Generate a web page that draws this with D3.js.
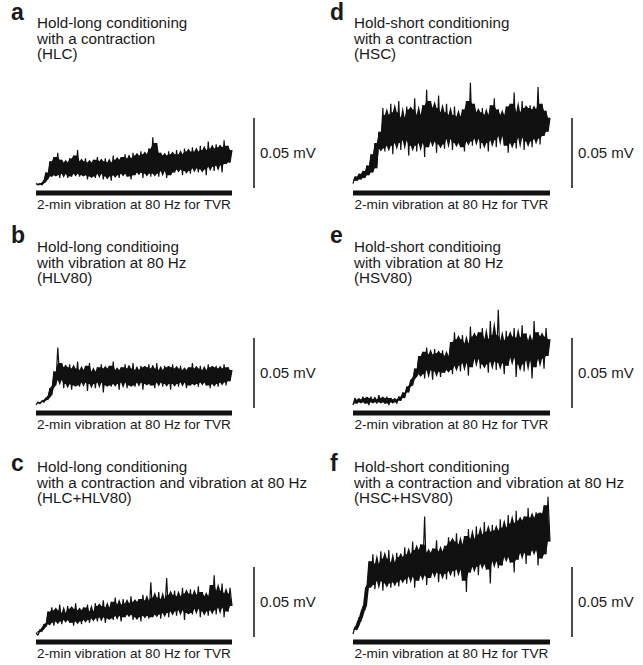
<!DOCTYPE html>
<html>
<head>
<meta charset="utf-8">
<script src="https://cdn.jsdelivr.net/npm/d3@7"></script>
<style>
  body { margin: 0; background: #fff; }
  text { font-family: "Liberation Sans", Arial, sans-serif; fill: #1a1a1a; }
</style>
</head>
<body>
<svg id="fig" width="643" height="665"></svg>
<script>
const panelLetters = ['a', 'b', 'c', 'd', 'e', 'f']

const panelTitles = [
  ['Hold-long conditioning', 'with a contraction', '(HLC)'],
  ['Hold-long conditioing', 'with vibration at 80 Hz', '(HLV80)'],
  ['Hold-long conditioning', 'with a contraction and vibration at 80 Hz', '(HLC+HLV80)'],
  ['Hold-short conditioning', 'with a contraction', '(HSC)'],
  ['Hold-short conditioing', 'with vibration at 80 Hz', '(HSV80)'],
  ['Hold-short conditioning', 'with a contraction and vibration at 80 Hz', '(HSC+HSV80)'],
]

const captionText = '2-min vibration at 80 Hz for TVR'
const scaleLabel = '0.05 mV'
const scaleBarMicroVolts = 50
const vibrationSeconds = 120

// rectified EMG traces, µV above the pre-vibration level, evenly spaced over the 2 min
const traceHLC = [
  1, 0, 1, 0, 2, 9, 4, 17, 6, 20,
  7, 23, 5, 18, 8, 16, 5, 19, 6, 21,
  8, 25, 6, 17, 7, 19, 4, 16, 6, 18,
  5, 20, 8, 17, 4, 19, 6, 16, 3, 21,
  7, 18, 5, 20, 8, 22, 6, 19, 4, 23,
  7, 21, 9, 24, 5, 22, 8, 26, 6, 34,
  8, 30, 6, 23, 10, 21, 5, 24, 7, 22,
  9, 25, 11, 22, 7, 26, 10, 24, 8, 27,
  12, 24, 9, 28, 11, 25, 7, 31, 13, 26,
  10, 29, 14, 27, 9, 32, 15, 28, 16, 25,
]

const traceHLV80 = [
  0, 2, 1, 3, 2, 5, 4, 12, 7, 24,
  14, 41, 18, 30, 12, 27, 15, 29, 11, 26,
  14, 31, 13, 25, 16, 28, 10, 30, 15, 24,
  12, 27, 16, 29, 9, 26, 14, 28, 13, 31,
  15, 25, 11, 27, 16, 29, 12, 26, 14, 30,
  13, 25, 16, 28, 11, 27, 15, 29, 14, 26,
  12, 30, 16, 25, 13, 28, 15, 27, 11, 29,
  15, 26, 13, 28, 16, 25, 12, 27, 14, 30,
  15, 26, 13, 28, 16, 25, 14, 29, 12, 27,
  15, 28, 13, 26, 16, 29, 14, 27, 17, 25,
]

const traceHLCHLV80 = [
  1, -1, 3, 2, 7, 5, 16, 8, 19, 6,
  17, 9, 21, 7, 15, 10, 20, 8, 18, 6,
  22, 9, 17, 7, 19, 10, 21, 8, 16, 11,
  22, 9, 20, 12, 24, 8, 19, 11, 23, 10,
  26, 13, 21, 9, 25, 12, 22, 14, 27, 10,
  23, 12, 25, 9, 28, 13, 24, 11, 37, 12,
  26, 14, 30, 11, 25, 15, 40, 12, 28, 16,
  31, 13, 27, 17, 33, 10, 29, 15, 32, 14,
  28, 18, 34, 12, 30, 16, 27, 13, 35, 17,
  42, 14, 31, 19, 36, 12, 29, 16, 33, 20,
]

const traceHSC = [
  1, 6, 3, 8, 4, 10, 5, 14, 7, 22,
  9, 30, 12, 38, 26, 55, 24, 50, 28, 58,
  22, 52, 30, 60, 25, 48, 32, 56, 21, 54,
  28, 62, 24, 50, 30, 57, 20, 68, 27, 60,
  31, 55, 23, 64, 29, 52, 26, 58, 33, 50,
  25, 56, 30, 49, 27, 54, 24, 60, 31, 73,
  28, 58, 33, 52, 26, 55, 30, 50, 24, 57,
  32, 62, 27, 54, 35, 50, 28, 56, 23, 58,
  30, 66, 26, 52, 34, 60, 25, 55, 31, 57,
  27, 54, 33, 70, 29, 58, 35, 53, 38, 48,
]

const traceHSV80 = [
  0, 5, 1, 4, 2, 6, 1, 5, 0, 6,
  2, 4, 1, 7, 2, 5, 1, 6, 0, 5,
  2, 4, 1, 6, 3, 9, 5, 13, 9, 18,
  14, 26, 20, 35, 22, 38, 19, 41, 25, 36,
  18, 40, 24, 37, 20, 39, 23, 35, 25, 45,
  22, 52, 28, 47, 24, 50, 30, 44, 21, 56,
  27, 49, 33, 52, 26, 55, 29, 47, 23, 60,
  31, 50, 25, 68, 30, 46, 22, 53, 28, 49,
  34, 55, 20, 48, 29, 57, 24, 51, 32, 46,
  19, 60, 27, 52, 33, 49, 26, 55, 35, 47,
]

const traceHSCHSV80 = [
  0, 5, 3, 12, 9, 20, 17, 33, 52, 35,
  57, 32, 50, 38, 59, 31, 54, 36, 60, 33,
  51, 37, 58, 34, 55, 39, 62, 36, 57, 41,
  66, 33, 60, 38, 64, 42, 84, 35, 58, 40,
  61, 44, 67, 37, 59, 43, 63, 39, 69, 45,
  66, 41, 72, 46, 64, 38, 70, 30, 75, 44,
  68, 48, 77, 42, 71, 50, 80, 46, 73, 36,
  78, 52, 74, 47, 82, 49, 76, 55, 85, 51,
  79, 44, 88, 53, 81, 58, 84, 50, 90, 56,
  83, 60, 87, 49, 86, 54, 92, 57, 98, 66,
]

const traces = [traceHLC, traceHLV80, traceHLCHLV80, traceHSC, traceHSV80, traceHSCHSV80]

// layout
const rowBarY = [193, 413, 642]
const rowLetterY = [20, 243, 471]
const rowTitleY = [28, 252, 472]
const titleGap = 15.6
const colTraceX = [[36, 232], [353, 550]]
const colLetterX = [11, 330]
const colTitleX = [37, 354]
const colScaleX = [254, 572]
const microVoltPx = 70 / scaleBarMicroVolts

const svg = d3.select('#fig')

panelLetters.forEach((letter, i) => {
  const col = Math.floor(i / 3)
  const row = i % 3
  const barY = rowBarY[row]
  const [x0, x1] = colTraceX[col]

  const x = d3.scaleLinear().domain([0, vibrationSeconds]).range([x0, x1])
  const y = d3.scaleLinear()
    .domain([0, scaleBarMicroVolts])
    .range([barY - 8, barY - 8 - scaleBarMicroVolts * microVoltPx])

  const g = svg.append('g').attr('class', `panel-${ letter }`)

  g.append('text')
    .attr('x', colLetterX[col])
    .attr('y', rowLetterY[row])
    .style('font-size', '23px')
    .style('font-weight', 'bold')
    .text(letter)

  g.selectAll('text.title')
    .data(panelTitles[i])
    .enter()
    .append('text')
    .attr('class', 'title')
    .attr('x', colTitleX[col])
    .attr('y', (d, k) => rowTitleY[row] + k * titleGap)
    .style('font-size', '15.2px')
    .text(d => d)

  const data = traces[i]
  const t = k => k / (data.length - 1) * vibrationSeconds
  // five neighbouring samples, sorted, to find the typical peak and trough
  const near = k => data.slice(Math.max(0, k - 2), k + 3).sort(d3.ascending)

  // the dense 80 Hz activity reads as a solid core; single spikes stick out of it
  const band = d3.area()
    .x((d, k) => x(t(k)))
    .y0((d, k) => y(near(k)[1]))
    .y1((d, k) => { const s = near(k); return y(s[s.length - 2]) })

  const line = d3.line()
    .x((d, k) => x(t(k)))
    .y(d => y(d))

  g.append('path')
    .datum(data)
    .attr('d', band)
    .attr('fill', '#111')

  g.append('path')
    .datum(data)
    .attr('d', line)
    .attr('fill', 'none')
    .attr('stroke', '#111')
    .attr('stroke-width', 1.2)
    .attr('stroke-miterlimit', 2)

  // 2-min vibration bar
  g.append('rect')
    .attr('x', x(0))
    .attr('y', barY - 2.5)
    .attr('width', x(vibrationSeconds) - x(0))
    .attr('height', 5)
    .attr('fill', '#111')

  g.append('text')
    .attr('x', (x0 + x1) / 2)
    .attr('y', barY + 16)
    .attr('text-anchor', 'middle')
    .style('font-size', '13.6px')
    .text(captionText)

  // 0.05 mV calibration bar
  const sTop = barY - 75
  const sBottom = sTop + scaleBarMicroVolts * microVoltPx
  g.append('line')
    .attr('x1', colScaleX[col]).attr('x2', colScaleX[col])
    .attr('y1', sTop).attr('y2', sBottom)
    .attr('stroke', '#111')
    .attr('stroke-width', 1.5)

  g.append('text')
    .attr('x', colScaleX[col] + 6)
    .attr('y', (sTop + sBottom) / 2)
    .attr('dy', '0.35em')
    .style('font-size', '15px')
    .text(scaleLabel)
})
</script>
</body>
</html>
